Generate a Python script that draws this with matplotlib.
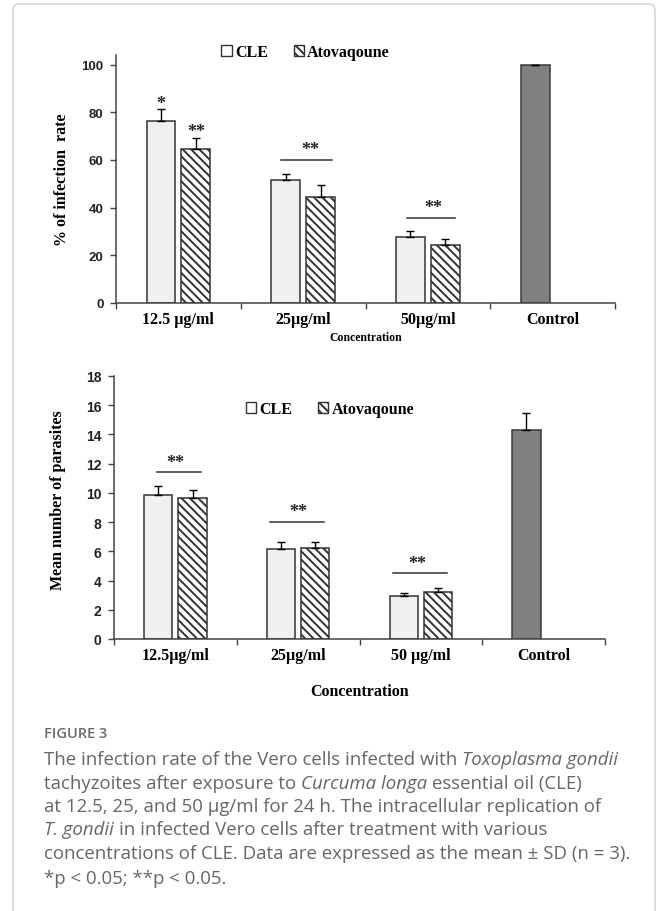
import matplotlib.pyplot as plt
import numpy as np
from matplotlib.patches import Patch, FancyBboxPatch

plt.rcParams["hatch.linewidth"] = 1.4

# data
labels_top = ["12.5 µg/ml", "25µg/ml", "50µg/ml", "Control"]
labels_bot = ["12.5µg/ml", "25µg/ml", "50 µg/ml", "Control"]

rate_cle = [76.2, 51.4, 27.7]
rate_cle_sd = [5.3, 2.9, 2.7]
rate_ato = [64.7, 44.4, 24.4]
rate_ato_sd = [4.6, 4.9, 2.5]
rate_ctrl = [100.0]
rate_ctrl_sd = [0.0]

par_cle = [9.85, 6.15, 2.96]
par_cle_sd = [0.63, 0.50, 0.18]
par_ato = [9.62, 6.22, 3.21]
par_ato_sd = [0.56, 0.43, 0.25]
par_ctrl = [14.3]
par_ctrl_sd = [1.2]

SERIF = "Liberation Serif"
SANS = "Liberation Sans"
W = 0.23
OFF = 0.14
CLE_FC = "#f0f0f0"
EDGE = "#333333"
HATCH = "\\\\\\\\"

fig = plt.figure(figsize=(6.58, 9.12), dpi=100)

# card border
fig.patches.append(FancyBboxPatch((13 / 658, -0.05), 642 / 658, 1.05 - 5 / 912,
                                  boxstyle="round,pad=0,rounding_size=0.008",
                                  transform=fig.transFigure, fc="white",
                                  ec="#d6d6d6", lw=1.2, zorder=-10))


def draw_panel(ax, cle, cle_sd, ato, ato_sd, ctrl, ctrl_sd, labels, ymax, yticks, ytick_size):
    x = np.arange(3)
    ek = dict(ecolor="black", elinewidth=1, capsize=3, capthick=1)
    ax.bar(x - OFF, cle, W, color=CLE_FC, edgecolor=EDGE, lw=1.1,
           yerr=[np.zeros(3), cle_sd], error_kw=ek, zorder=2)
    ax.bar(x + OFF, ato, W, color="white", edgecolor=EDGE, lw=1.1, hatch=HATCH,
           yerr=[np.zeros(3), ato_sd], error_kw=ek, zorder=2)
    ax.bar([3 - OFF], ctrl, W, color="#808080", edgecolor="#3a3a3a", lw=1.1,
           yerr=[[0], ctrl_sd], error_kw=ek, zorder=2)
    ax.set_xlim(-0.5, 3.5)
    ax.set_ylim(0, ymax)
    ax.set_yticks(yticks)
    ax.set_xticks([-0.5, 0.5, 1.5, 2.5, 3.5])
    ax.set_xticklabels([])
    ax.set_xticks(range(4), minor=True)
    ax.set_xticklabels(labels, minor=True, fontfamily=SERIF, fontweight="bold", fontsize=11.5)
    ax.tick_params(axis="x", which="minor", length=0, pad=6)
    ax.tick_params(axis="x", which="major", length=4, width=1, color="#444444")
    ax.tick_params(axis="y", length=4, width=1, color="#444444", pad=5)
    for t in ax.get_yticklabels():
        t.set_fontfamily(SANS)
        t.set_fontweight("bold")
        t.set_fontsize(ytick_size)
        t.set_color("#222222")
    for s in ["top", "right"]:
        ax.spines[s].set_visible(False)
    for s in ["left", "bottom"]:
        ax.spines[s].set_color("#444444")
        ax.spines[s].set_linewidth(1.1)


def stars(ax, xc, y, txt):
    ax.text(xc, y, txt, ha="center", va="baseline", fontfamily=SERIF,
            fontweight="bold", fontsize=13, color="#222222")


def bracket(ax, x0, x1, y):
    ax.plot([x0, x1], [y, y], color="#333333", lw=1.1)


legend_handles = [Patch(fc="white", ec=EDGE, lw=1, label="CLE"),
                  Patch(fc="white", ec=EDGE, lw=1, hatch=HATCH, label="Atovaqoune")]

# top panel
ax1 = fig.add_axes([116 / 658, 1 - 304 / 912, 499 / 658, 248 / 912])
draw_panel(ax1, rate_cle, rate_cle_sd, rate_ato, rate_ato_sd, rate_ctrl, rate_ctrl_sd,
           labels_top, 104, [0, 20, 40, 60, 80, 100], 9.5)
stars(ax1, 0 - OFF, 81.9, "*")
stars(ax1, 0 + OFF, 70.2, "**")
bracket(ax1, 1 - 0.18, 1 + 0.23, 60)
stars(ax1, 1 + 0.06, 62.3, "**")
bracket(ax1, 2 - 0.17, 2 + 0.22, 35.7)
stars(ax1, 2 + 0.04, 38.0, "**")
ax1.set_ylabel("% of infection  rate", fontfamily=SERIF, fontweight="bold", fontsize=11.5)
ax1.yaxis.set_label_coords(-0.092, 0.5)
ax1.set_xlabel("Concentration", fontfamily=SERIF, fontweight="bold", fontsize=8.5, labelpad=3)
ax1.legend(handles=legend_handles, loc="center", bbox_to_anchor=(0.38, 1.012), ncol=2,
           frameon=False, handlelength=0.65, handleheight=0.65, handletextpad=0.2,
           columnspacing=1.6, prop=dict(family=SERIF, weight="bold", size=11.5))

# bottom panel
ax2 = fig.add_axes([114 / 658, 1 - 640 / 912, 491 / 658, 263 / 912])
draw_panel(ax2, par_cle, par_cle_sd, par_ato, par_ato_sd, par_ctrl, par_ctrl_sd,
           labels_bot, 18, list(range(0, 19, 2)), 10)
bracket(ax2, 0 - 0.15, 0 + 0.21, 11.43)
stars(ax2, 0, 11.8, "**")
bracket(ax2, 1 - 0.23, 1 + 0.21, 8.02)
stars(ax2, 1, 8.4, "**")
bracket(ax2, 2 - 0.23, 2 + 0.21, 4.49)
stars(ax2, 2 - 0.03, 4.87, "**")
ax2.set_ylabel("Mean number of parasites", fontfamily=SERIF, fontweight="bold", fontsize=11.5)
ax2.yaxis.set_label_coords(-0.098, 0.53)
ax2.set_xlabel("Concentration", fontfamily=SERIF, fontweight="bold", fontsize=11.5, labelpad=14)
ax2.legend(handles=legend_handles, loc="center", bbox_to_anchor=(0.44, 0.875), ncol=2,
           frameon=False, handlelength=0.65, handleheight=0.65, handletextpad=0.2,
           columnspacing=1.6, prop=dict(family=SERIF, weight="bold", size=11.5))

# caption
CAP = "#666666"
fig.text(44 / 658, 1 - 733 / 912, "FIGURE 3", fontfamily="Open Sans", fontweight="semibold",
         fontsize=10.5, color="#6a6a6a", va="center_baseline")

caption_lines = [
    [("The infection rate of the Vero cells infected with", "normal"), ("Toxoplasma gondii", "italic")],
    [("tachyzoites after exposure to", "normal"), ("Curcuma longa", "italic"),
     ("essential oil (CLE)", "normal")],
    [("at 12.5, 25, and 50 µg/ml for 24 h. The intracellular replication of", "normal")],
    [("T. gondii", "italic"), ("in infected Vero cells after treatment with various", "normal")],
    [("concentrations of CLE. Data are expressed as the mean ± SD (n = 3).", "normal")],
    [("*p < 0.05; **p < 0.05.", "normal")],
]
caption_y = [758, 782, 805, 828, 852, 877]

renderer = fig.canvas.get_renderer()
cap_kw = dict(fontfamily="Open Sans", fontsize=13.4, color=CAP, va="center_baseline")


def text_w(s, style):
    t = fig.text(0, 0, s, fontstyle=style, **cap_kw)
    w = t.get_window_extent(renderer).width
    t.remove()
    return w


space_w = text_w("a a", "normal") - text_w("aa", "normal")
for parts, yp in zip(caption_lines, caption_y):
    xp = 44.0
    for s, style in parts:
        t = fig.text(xp / 658, 1 - yp / 912, s, fontstyle=style, **cap_kw)
        xp += t.get_window_extent(renderer).width + space_w

fig.savefig("out.png", dpi=100)
